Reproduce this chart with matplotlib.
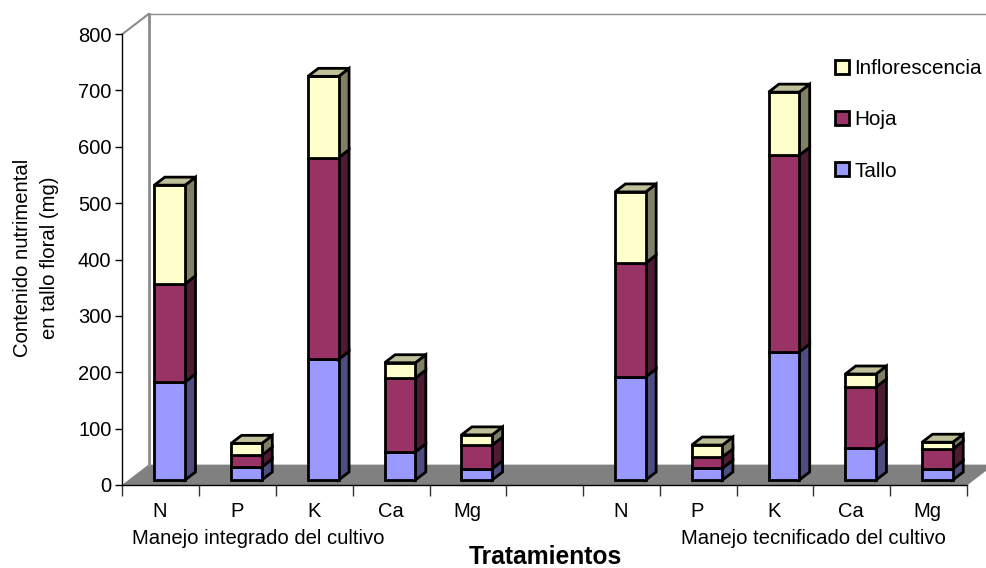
import matplotlib
matplotlib.use("Agg")
import matplotlib.pyplot as plt
from matplotlib.patches import Patch, Polygon

plt.rcParams['font.family'] = ['Liberation Sans', 'DejaVu Sans']

cats = ["N", "P", "K", "Ca", "Mg", "", "N", "P", "K", "Ca", "Mg"]
tallo = [174, 23, 214, 50, 20, 0, 183, 21, 227, 57, 20]
hoja = [174, 21, 358, 131, 42, 0, 202, 20, 349, 108, 35]
inflo = [175, 21, 144, 27, 18, 0, 126, 21, 112, 23, 12]
yticks = [0, 100, 200, 300, 400, 500, 600, 700, 800]

# colours: front, side
c_tallo = ("#9999FF", "#4D4D80")
c_hoja = ("#993366", "#4D1A33")
c_inflo = ("#FFFFCC", "#808066")
c_top = "#BFBF99"

# depth of the fake 3d box, x in slots and y in value units
DX = 0.34
DY = 35.5


def proj(x, y, d):
    return (x + d * DX, y + d * DY)


fig = plt.figure(figsize=(9.87, 5.68), dpi=100)
ax = fig.add_axes([122.5 / 987, 1 - 485 / 568, (967 - 122.5) / 987, 451 / 568])
ax.set_xlim(0, 11)
ax.set_ylim(0, 800)
ax.patch.set_visible(False)


def poly(pts, fc, ec="black", lw=2.0, z=3):
    ax.add_patch(Polygon(pts, closed=True, facecolor=fc, edgecolor=ec, linewidth=lw,
                         joinstyle="miter", clip_on=False, zorder=z))


# floor and walls
poly([proj(0, 0, 0), proj(11, 0, 0), proj(11, 0, 1), proj(0, 0, 1)], "#808080", "#808080", 0.5, 1)
ax.plot(*zip(proj(0, 0, 1), proj(0, 800, 1)), color="#8C8C8C", lw=2, clip_on=False, zorder=1)
ax.plot(*zip(proj(0, 800, 0), proj(0, 800, 1)), color="#8C8C8C", lw=1.5, clip_on=False, zorder=1)
ax.plot(*zip(proj(0, 800, 1), proj(11, 800, 1)), color="#8C8C8C", lw=1, clip_on=False, zorder=1)

# bars
d0, d1 = 0.25, 0.65
w = 0.40
for i in range(len(cats)):
    if cats[i] == "":
        continue
    x0 = i + 0.33
    x1 = x0 + w
    bottom = 0
    for val, col in [(tallo[i], c_tallo), (hoja[i], c_hoja), (inflo[i], c_inflo)]:
        top = bottom + val
        poly([proj(x1, bottom, d0), proj(x1, bottom, d1), proj(x1, top, d1), proj(x1, top, d0)], col[1])
        poly([proj(x0, bottom, d0), proj(x1, bottom, d0), proj(x1, top, d0), proj(x0, top, d0)], col[0])
        bottom = top
    poly([proj(x0, bottom, d0), proj(x1, bottom, d0), proj(x1, bottom, d1), proj(x0, bottom, d1)], c_top)

# axes
for s in ["top", "right"]:
    ax.spines[s].set_visible(False)
ax.spines["left"].set_linewidth(1)
ax.spines["bottom"].set_linewidth(1)
ax.spines["left"].set_zorder(2)
ax.spines["bottom"].set_zorder(2)
ax.set_yticks(yticks)
ax.tick_params(axis="y", length=5, width=1, labelsize=14.5, pad=3)
ax.set_xticks(range(12))
ax.set_xticklabels([])
ax.tick_params(axis="x", which="major", length=8, width=1, color="#333333")
ax.set_xticks([i + 0.49 for i in range(11)], minor=True)
ax.set_xticklabels(cats, minor=True, fontsize=14.5)
ax.tick_params(axis="x", which="minor", length=0, pad=12)

fig.text(36 / 987, 1 - 258 / 568, "Contenido nutrimental\nen tallo floral (mg)", rotation=90,
         fontsize=14.6, ha="center", va="center", linespacing=1.55)
fig.text(258 / 987, 1 - 539 / 568, "Manejo integrado del cultivo", fontsize=14.6, ha="center", va="center")
fig.text(813 / 987, 1 - 539 / 568, "Manejo tecnificado del cultivo", fontsize=14.6, ha="center", va="center")
fig.text(545 / 987, 1 - 563.5 / 568, "Tratamientos", fontsize=17.7, fontweight="bold", ha="center", va="baseline")

handles = [Patch(facecolor=c_inflo[0], edgecolor="black", linewidth=2, label="Inflorescencia"),
           Patch(facecolor=c_hoja[0], edgecolor="black", linewidth=2, label="Hoja"),
           Patch(facecolor=c_tallo[0], edgecolor="black", linewidth=2, label="Tallo")]
leg = fig.legend(handles=handles, loc="upper left", bbox_to_anchor=(835 / 987, 1 - 59 / 568),
                 frameon=False, fontsize=14.9, labelspacing=1.56, handlelength=0.67,
                 handleheight=0.67, handletextpad=0.25, borderpad=0, borderaxespad=0)

fig.savefig("out.png", dpi=100)
